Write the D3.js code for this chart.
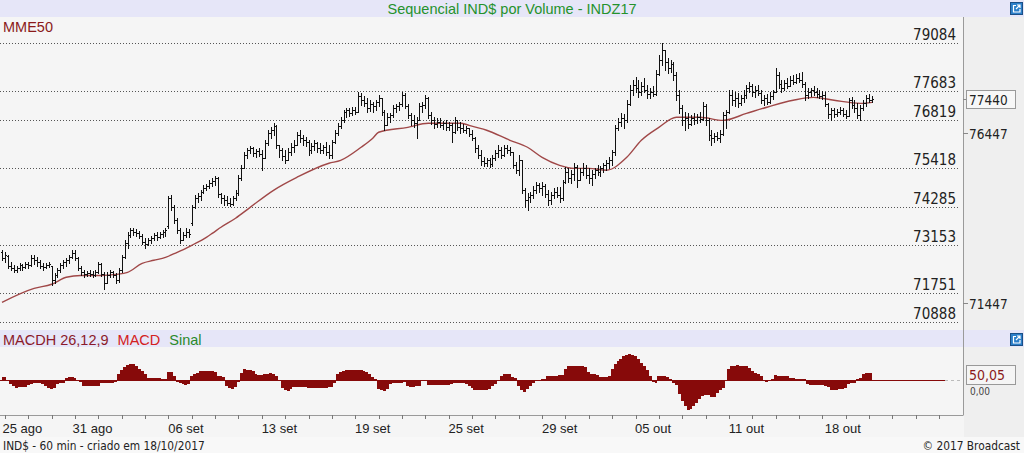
<!DOCTYPE html>
<html><head><meta charset="utf-8">
<script src="https://cdn.jsdelivr.net/npm/d3@7"></script>
<style>
html,body{margin:0;padding:0;background:#f5f5f5;overflow:hidden;}
svg{display:block;}
</style></head><body>
<svg id="c" width="1024" height="453"></svg>
<script>
const title = "Sequencial IND$ por Volume - INDZ17";
const gridLevels = [79084, 77683, 76819, 75418, 74285, 73153, 71751, 70888];
const rightLevels = [76447, 71447];
const lastPrice = 77440;
const dateLabels = ["25 ago","31 ago","06 set","13 set","19 set","25 set","29 set","05 out","11 out","18 out"];
const dateIdx = [7,31,63,95,127,159,191,223,255,288];
const macdLastLabel = "50,05";
const macdZeroLabel = "0,00";
const footerLeft = "IND$ - 60 min - criado em 18/10/2017";
const footerRight = "© 2017 Broadcast";

// [open, high, low, close] per hourly bar
const ohlc = [
[72945,73000,72710,72765],[72765,72945,72650,72855],[72825,72855,72475,72530],[72530,72650,72415,72475],[72475,72560,72355,72415],
[72415,72530,72355,72475],[72475,72620,72415,72560],[72560,72590,72415,72500],[72500,72650,72475,72590],[72590,72650,72475,72560],
[72560,72855,72530,72765],[72765,72855,72590,72710],[72710,72795,72530,72650],[72650,72710,72475,72530],[72530,72620,72415,72500],
[72500,72620,72475,72560],[72560,72650,72500,72590],[72530,72530,71975,72120],[72120,72325,72035,72265],[72265,72475,72210,72415],
[72415,72620,72355,72560],[72560,72710,72475,72650],[72650,72765,72530,72710],[72710,72855,72620,72795],[72795,73000,72765,72915],
[72915,73000,72710,72765],[72765,72795,72415,72475],[72475,72530,72265,72355],[72355,72415,72210,72295],[72295,72385,72240,72325],
[72325,72415,72240,72295],[72295,72385,72210,72265],[72265,72415,72240,72355],[72355,72650,72325,72590],[72590,72620,72240,72295],
[72295,72355,71855,72035],[72035,72355,72035,72265],[72265,72415,72210,72355],[72355,72385,72210,72265],[72265,72325,72035,72120],
[72120,72475,72060,72415],[72415,72855,72355,72795],[72795,73295,72765,73210],[73210,73530,73060,73445],[73445,73650,73385,73590],
[73590,73650,73445,73530],[73530,73620,73415,73500],[73500,73560,73355,73415],[73415,73475,73180,73240],[73240,73355,73060,73180],
[73180,73355,73150,73295],[73295,73415,73210,73355],[73355,73500,73295,73445],[73445,73530,73295,73385],[73385,73530,73355,73475],
[73475,73590,73385,73530],[73530,73650,73415,73590],[73710,74590,73650,74530],[74530,74620,74180,74265],[74265,74325,73795,73885],
[73885,73945,73500,73590],[73590,73650,73210,73295],[73295,73530,73295,73445],[73445,73650,73385,73530],[73530,73620,73385,73475],
[73795,74325,73740,74265],[74265,74620,74235,74530],[74530,74675,74410,74590],[74590,74765,74470,74705],[74705,74910,74675,74825],
[74825,74940,74765,74880],[74880,75060,74825,74970],[74970,75120,74880,75030],[75030,75175,74910,75120],[75120,75145,74560,74645],
[74645,74675,74385,74530],[74530,74620,74325,74470],[74470,74590,74325,74385],[74385,74530,74295,74355],[74355,74590,74325,74530],
[74530,74765,74470,74675],[74675,75205,74620,75120],[75120,75500,75060,75410],[75410,75880,75410,75795],[75795,76000,75705,75940],
[75940,76060,75855,76000],[76000,76030,75765,75855],[75855,75970,75735,75910],[75910,76000,75765,75825],[75825,75940,75355,75705],
[75705,76235,75705,76145],[76145,76530,76085,76440],[76440,76615,76295,76530],[76530,76735,76380,76645],[76645,76675,76000,76085],
[76085,76085,75735,75940],[75940,76000,75645,75765],[75765,75940,75560,75645],[75645,76000,75645,75880],[75880,76145,75795,76030],
[76030,76235,75880,76085],[76085,76470,76085,76380],[76380,76530,76175,76295],[76295,76380,76085,76235],[76235,76320,76060,76175],
[76175,76235,75795,75940],[75940,76145,75855,76060],[76060,76235,75940,76145],[76145,76175,75880,76000],[76000,76145,75855,75940],
[75940,76085,75855,76030],[76030,76175,75795,75880],[75880,76085,75705,75795],[75795,76235,75705,76175],[76175,76530,76145,76440],
[76440,76735,76380,76645],[76645,76910,76585,76820],[76820,77115,76765,77055],[77055,77175,76910,77115],[77115,77175,76940,77025],
[77025,77205,76970,77115],[77115,77205,77000,77055],[77055,77645,77055,77525],[77525,77615,77260,77410],[77410,77525,77235,77320],
[77320,77470,77055,77175],[77175,77410,77085,77290],[77290,77350,77055,77235],[77235,77410,77115,77350],[77350,77555,77235,77470],
[77470,77470,76970,77055],[77055,77115,76530,76675],[76675,77025,76675,76910],[76910,77025,76765,76970],[76970,77260,76910,77175],
[77175,77290,77055,77235],[77235,77350,77115,77290],[77290,77645,77235,77555],[77555,77615,77175,77235],[77235,77290,76880,76970],
[76970,77025,76675,76820],[76820,76970,76615,76735],[76735,76910,76295,76820],[76820,77320,76820,77235],[77235,77350,77055,77260],
[77260,77555,77175,77470],[77470,77495,76880,76970],[76970,77055,76705,76820],[76820,76910,76585,76705],[76705,76880,76615,76765],
[76765,76880,76615,76675],[76675,76795,76555,76735],[76735,76820,76530,76615],[76615,76765,76530,76675],[76675,76735,76175,76470],
[76470,76910,76440,76820],[76820,76820,76530,76615],[76615,76765,76440,76585],[76585,76705,76470,76530],[76530,76645,76440,76585],
[76585,76585,76350,76410],[76410,76530,76235,76295],[76295,76320,75880,76000],[76000,76085,75705,75795],[75795,75940,75500,75615],
[75615,75735,75470,75560],[75560,75705,75470,75645],[75645,75705,75440,75530],[75530,75795,75470,75705],[75705,75940,75645,75855],
[75855,76085,75735,75940],[75940,76030,75705,75795],[75795,76085,75765,76000],[76000,76085,75855,75940],[75940,76030,75795,75880],
[75880,75880,75410,75500],[75500,75590,75265,75355],[75355,75795,75205,75645],[75645,75645,74675,74765],[74765,74825,74265,74470],
[74470,74675,74180,74560],[74560,74705,74410,74620],[74620,74880,74530,74765],[74765,75000,74675,74910],[74910,74970,74705,74825],
[74825,75000,74620,74880],[74880,74940,74560,74645],[74645,74765,74325,74470],[74470,74705,74355,74620],[74620,74825,74530,74705],
[74705,74855,74560,74620],[74620,74855,74410,74530],[74530,75060,74470,75000],[75000,75440,74970,75295],[75295,75410,75000,75120],
[75120,75355,74970,75235],[75235,75560,75060,75440],[75440,75500,74855,75060],[75060,75410,75060,75295],[75295,75560,75205,75410],
[75410,75500,75120,75205],[75205,75410,74970,75120],[75120,75355,74910,75235],[75235,75410,75120,75355],[75355,75500,75205,75295],
[75295,75470,75175,75410],[75410,75560,75295,75500],[75500,75645,75355,75560],[75560,75735,75410,75645],[75645,75940,75500,75880],
[75880,76675,75795,76585],[76585,76880,76530,76765],[76765,77025,76645,76880],[76880,77000,76585,76820],[76820,77410,76765,77290],
[77290,77850,77260,77705],[77705,78000,77555,77850],[77850,78085,77645,77760],[77760,78000,77495,77645],[77645,77940,77555,77820],
[77820,78055,77645,77705],[77705,77850,77470,77585],[77585,77760,77470,77645],[77645,77820,77525,77585],[77585,78290,77555,78175],
[78175,78730,78145,78585],[78585,79085,78440,78880],[78880,78880,78290,78525],[78525,78645,78205,78350],[78350,78585,78230,78465],
[78465,78525,78000,78145],[78145,78230,77410,77555],[77555,77705,77025,77175],[77175,77260,76675,76820],[76820,77055,76530,76880],
[76880,77025,76585,76705],[76705,76970,76675,76880],[76880,77025,76705,76820],[76820,77000,76735,76910],[76910,77055,76765,76850],
[76850,77350,76820,77235],[77235,77290,76675,76820],[76820,76880,76235,76380],[76380,76530,76085,76295],[76295,76440,76175,76350],
[76350,76470,76235,76295],[76295,76530,76175,76410],[76410,77055,76380,76970],[76970,77115,76585,77055],[77055,77705,77025,77555],
[77555,77705,77260,77410],[77410,77645,77235,77470],[77470,77615,77205,77320],[77320,77555,77260,77470],[77470,77705,77350,77555],
[77555,77850,77470,77760],[77760,77940,77645,77820],[77820,77880,77525,77645],[77645,77820,77495,77705],[77705,77850,77555,77615],
[77615,77705,77320,77410],[77410,77555,77260,77470],[77470,77585,77290,77350],[77350,77645,77320,77525],[77525,77705,77440,77645],
[77645,78350,77645,78145],[78145,78230,77760,77880],[77880,78000,77645,77760],[77760,78000,77705,77910],[77910,78055,77760,77820],
[77820,78115,77820,78000],[78000,78145,77880,77940],[77940,78175,77910,78055],[78055,78205,77940,78000],[78000,78230,77790,77880],
[77880,77940,77410,77555],[77555,77760,77470,77645],[77645,77760,77525,77705],[77705,77820,77555,77645],[77645,77760,77495,77585],
[77585,77705,77470,77525],[77525,77675,77440,77555],[77555,77645,77235,77290],[77290,77320,76880,77000],[77000,77175,76820,77115],
[77115,77175,76910,77000],[77000,77145,76940,77055],[77055,77205,77000,77115],[77115,77175,76940,77000],[77000,77115,76880,76940],
[76940,77470,76940,77410],[77410,77495,77175,77260],[77260,77410,77055,77175],[77175,77320,76880,76970],[76970,77260,76820,77175],
[77175,77410,77115,77320],[77320,77555,77235,77470],[77470,77585,77350,77410],[77410,77525,77350,77440]
];

// MME50 (exponential moving average) read at bar indices
const mmeIdx = [0,11,17,22,27,34,39,43,48,52,56,60,63,65,70,72,75,80,85,93,101,112,116,123,127,129,139,146,150,157,160,166,174,180,185,191,196,201,207,214,219,225,231,239,247,255,262,271,278,285,294,298];
const mmeVal = [71475,71885,72005,72210,72265,72265,72295,72355,72620,72710,72795,72945,73060,73150,73385,73500,73680,73945,74265,74765,75145,75560,75645,76030,76295,76470,76615,76735,76735,76735,76675,76530,76235,76030,75735,75500,75410,75410,75355,75735,76235,76615,76910,76910,76820,77025,77205,77410,77495,77410,77320,77350];

// MACD histogram (26,12,9) per bar
const macdH = [
20,20,-10,-25,-40,-55,-52,-50,-48,-35,
-30,-20,-20,-22,-30,-45,-55,-62,-55,-25,
-20,-20,15,20,20,15,-10,-12,-40,-42,
-42,-40,-40,-40,-22,-20,-20,-18,-18,-15,
40,70,90,105,112,110,100,80,60,40,
15,12,12,12,12,10,8,55,55,25,
-15,-20,-28,-35,-30,30,40,50,60,65,
65,62,60,55,30,25,20,-40,-55,-62,
-50,-15,50,75,72,68,65,40,35,35,
40,45,48,45,30,0,-55,-70,-75,-65,
-50,-50,-48,-48,-50,-55,-55,-58,-58,-55,
-55,-55,-52,-50,-20,45,55,60,70,72,
72,70,72,70,65,55,40,20,10,-60,
-72,-75,-65,-25,-20,-20,-22,-20,-15,-45,
-50,-48,-45,-40,-8,-5,-35,-38,-38,-35,
-35,-36,-35,-32,-25,-22,-22,-20,-20,-25,
-45,-55,-70,-72,-72,-70,-68,-65,-40,-25,
-10,30,42,42,40,20,15,-45,-70,-85,
-60,-40,-20,-10,0,5,5,25,28,30,
30,32,32,75,95,100,100,100,98,95,
90,55,45,40,35,20,20,22,25,80,
110,130,150,165,175,180,175,165,150,120,
100,70,30,-15,-20,30,30,25,20,5,
-20,-35,-100,-150,-185,-210,-200,-180,-160,-130,
-110,-105,-108,-120,-120,-90,-70,-55,-10,80,
100,100,102,100,98,95,85,60,50,40,
30,-10,-15,0,10,35,30,28,25,25,
15,12,10,10,10,8,-30,-35,-35,-38,
-35,-35,-40,-50,-70,-72,-70,-62,-60,-55,
-25,-22,-20,5,15,45,50,52,50
];

const W = 1024, H = 453;
const svg = d3.select("#c");
const condensed = "'DejaVu Sans Condensed','DejaVu Sans',sans-serif";
const arial = "'Liberation Sans',Arial,sans-serif";

// backgrounds
svg.append("rect").attr("x",0).attr("y",0).attr("width",W).attr("height",H).attr("fill","#f5f5f5");
svg.append("rect").attr("x",964).attr("y",17).attr("width",60).attr("height",420).attr("fill","#efefef");
svg.append("rect").attr("x",0).attr("y",0).attr("width",W).attr("height",17).attr("fill","#e6e6f8");
svg.append("rect").attr("x",0).attr("y",330).attr("width",W).attr("height",17).attr("fill","#e6e6f8");
svg.append("rect").attr("x",0).attr("y",437).attr("width",W).attr("height",16).attr("fill","#f8f8f8");

// scales
const x = d3.scaleLinear().domain([0, ohlc.length - 1]).range([2, 872]);
const y = d3.scaleLinear().domain([70888, 79084]).range([322.3, 43.3]);
const m = d3.scaleLinear().domain([-245, 230]).range([415, 347.14]);

// title
svg.append("text").attr("x",512).attr("y",14).attr("text-anchor","middle")
  .attr("font-family",arial).attr("font-size",14.5).attr("fill","#25922c").text(title);

// icons
function icon(yy){
  const g = svg.append("g").attr("transform",`translate(1010,${yy})`);
  g.append("rect").attr("x",0.5).attr("y",0.5).attr("width",12).attr("height",12).attr("fill","#2c7fc9").attr("stroke","#1b4f86");
  g.append("path").attr("d","M3,3.5H6M3.5,3V10H10V7M6,7L10,3M7,3H10V6").attr("stroke","#fff").attr("fill","none").attr("stroke-width",1.2);
}
icon(2); icon(333);

// separator lines
svg.append("line").attr("x1",963.5).attr("x2",963.5).attr("y1",17).attr("y2",415).attr("stroke","#9a9a9a");
svg.append("line").attr("x1",0).attr("x2",963.5).attr("y1",415.5).attr("y2",415.5).attr("stroke","#9a9a9a");

// gridlines with labels
const gl = svg.append("g");
gridLevels.forEach(v=>{
  const yy = Math.round(y(v)) + 0.5;
  gl.append("line").attr("x1",0).attr("x2",958).attr("y1",yy).attr("y2",yy)
    .attr("stroke","#555").attr("stroke-dasharray","1,2");
  gl.append("text").attr("x",956).attr("y",yy-4).attr("text-anchor","end")
    .attr("font-family",condensed).attr("font-size",15).attr("fill","#222").text(v);
});

// right axis labels
rightLevels.forEach(v=>{
  const yy = Math.round(y(v)) + 0.5;
  svg.append("line").attr("x1",963).attr("x2",968).attr("y1",yy).attr("y2",yy).attr("stroke","#888");
  svg.append("text").attr("x",969).attr("y",yy+5).attr("font-family",condensed).attr("font-size",13.5).attr("fill","#222").text(v);
});
{
  const yy = Math.round(y(lastPrice)) + 0.5;
  svg.append("line").attr("x1",963).attr("x2",967).attr("y1",yy).attr("y2",yy).attr("stroke","#888");
  svg.append("rect").attr("x",966.5).attr("y",yy-9).attr("width",49).attr("height",18).attr("fill","#f7f7f7").attr("stroke","#999");
  svg.append("text").attr("x",969).attr("y",yy+5).attr("font-family",condensed).attr("font-size",13.5).attr("fill","#222").text(lastPrice);
}

// MME50 line
const mme = mmeIdx.map((d,i)=>[d, mmeVal[i]]);
svg.append("path").attr("d", d3.line().x(d=>x(d[0])).y(d=>y(d[1])).curve(d3.curveMonotoneX)(mme))
  .attr("fill","none").attr("stroke","#a04848").attr("stroke-width",1.4);

// OHLC bars
const bars = svg.append("g").attr("fill","#111").attr("shape-rendering","crispEdges");
ohlc.forEach((d,i)=>{
  const xi = Math.round(x(i));
  const yh = Math.round(y(d[1])), yl = Math.round(y(d[2]));
  bars.append("rect").attr("x",xi).attr("y",yh).attr("width",1).attr("height",Math.max(1,yl-yh+1));
  bars.append("rect").attr("x",xi-1).attr("y",Math.round(y(d[0]))).attr("width",1).attr("height",1);
  bars.append("rect").attr("x",xi+1).attr("y",Math.round(y(d[3]))).attr("width",1).attr("height",1);
});

svg.append("text").attr("x",3).attr("y",32).attr("font-family",arial).attr("font-size",14.5).attr("fill","#8b1a1a").text("MME50");

// MACD header
const hdr = svg.append("text").attr("x",3).attr("y",345).attr("font-family",arial).attr("font-size",14.5);
hdr.append("tspan").attr("fill","#8b1a2a").text("MACDH 26,12,9");
hdr.append("tspan").attr("dx",9).attr("fill","#d42020").text("MACD");
hdr.append("tspan").attr("dx",9).attr("fill","#2a8a2a").text("Sinal");

// MACD histogram
svg.append("path").attr("d", d3.area().x((d,i)=>x(i)).y0(m(0)).y1(d=>m(d)).curve(d3.curveStep)(macdH))
  .attr("fill","#870a0a").attr("shape-rendering","crispEdges");
svg.append("line").attr("x1",0).attr("x2",945).attr("y1",Math.round(m(0))+0.5).attr("y2",Math.round(m(0))+0.5).attr("stroke","#870a0a");
svg.append("line").attr("x1",945).attr("x2",963).attr("y1",Math.round(m(0))+0.5).attr("y2",Math.round(m(0))+0.5).attr("stroke","#bbb").attr("stroke-dasharray","3,3");

// MACD right labels
svg.append("rect").attr("x",966.5).attr("y",365.5).attr("width",49).attr("height",19).attr("fill","#f5f5f5").attr("stroke","#999");
svg.append("text").attr("x",969).attr("y",380).attr("font-family",condensed).attr("font-size",14).attr("fill","#8b1a1a").text(macdLastLabel);
svg.append("text").attr("x",970).attr("y",395).attr("font-family",condensed).attr("font-size",10).attr("fill","#444").text(macdZeroLabel);

// x axis ticks & labels
const tickIdx = d3.range(1, 330, 8).filter(i => x(i) < 960);
svg.append("g").selectAll("line").data(tickIdx).join("line")
  .attr("x1",d=>Math.round(x(d))+0.5).attr("x2",d=>Math.round(x(d))+0.5).attr("y1",415).attr("y2",419).attr("stroke","#777");
svg.append("g").selectAll("text").data(dateLabels).join("text")
  .attr("x",(d,i)=>x(dateIdx[i])).attr("y",433).attr("text-anchor","middle")
  .attr("font-family",arial).attr("font-size",13).attr("fill","#222").text(d=>d);

// footer
svg.append("text").attr("x",3).attr("y",450).attr("font-family",condensed).attr("font-size",11.8).attr("fill","#222").text(footerLeft);
svg.append("text").attr("x",1020).attr("y",450).attr("text-anchor","end").attr("font-family",condensed).attr("font-size",11.8).attr("fill","#222").text(footerRight);
</script>
</body></html>
